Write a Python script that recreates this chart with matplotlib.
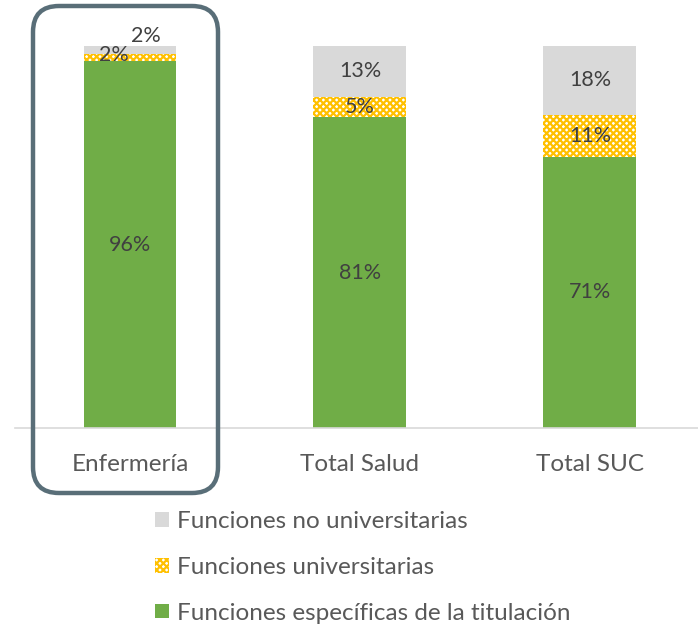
import matplotlib
matplotlib.use("Agg")
import matplotlib.pyplot as plt
from matplotlib.patches import FancyBboxPatch, Patch

plt.rcParams['font.family'] = ['Lato', 'DejaVu Sans']
plt.rcParams['hatch.linewidth'] = 1.6

categories = ["Enfermería", "Total Salud", "Total SUC"]
especificas = [96.0, 81.4, 71.0]
universitarias = [2.0, 5.3, 11.0]
no_universitarias = [2.0, 13.3, 18.0]
series_names = ["Funciones no universitarias", "Funciones universitarias",
                "Funciones específicas de la titulación"]

green = "#70AD47"
gold = "#FFC000"
gray = "#D9D9D9"
txt = "#404040"

fig = plt.figure(figsize=(6.98, 6.26), dpi=100)
ax = fig.add_axes([15/698, 198/626, 683/698, 382/626])
x = list(range(len(categories)))
w = 0.404
b1 = ax.bar(x, especificas, w, color=green)
b2 = ax.bar(x, universitarias, w, bottom=especificas, color="white",
            edgecolor=gold, hatch="xxxxx", linewidth=0)
bot3 = [a + b for a, b in zip(especificas, universitarias)]
b3 = ax.bar(x, no_universitarias, w, bottom=bot3, color=gray)

ax.set_xlim(-0.5, 2.47)
ax.set_ylim(0, 100)
for s in ["left", "right", "top"]:
    ax.spines[s].set_visible(False)
ax.spines["bottom"].set_color("#D9D9D9")
ax.spines["bottom"].set_linewidth(1.2)
ax.set_yticks([])
ax.set_xticks(x)
ax.set_xticklabels(categories, fontsize=17.5, color="#595959")
ax.tick_params(axis="x", length=0, pad=19)

fs = 15.5
for i in x:
    ax.text(i, especificas[i] / 2, f"{especificas[i]:.0f}%", ha="center", va="center",
            fontsize=fs, color=txt)
    if i == 0:
        ax.text(i - 0.07, especificas[i] + universitarias[i] / 2 + 0.6,
                f"{universitarias[i]:.0f}%", ha="center", va="center", fontsize=fs, color=txt)
        ax.text(i + 0.07, 100 + 2.6, f"{no_universitarias[i]:.0f}%",
                ha="center", va="center", fontsize=fs, color=txt)
    else:
        ax.text(i, especificas[i] + universitarias[i] / 2, f"{universitarias[i]:.0f}%",
                ha="center", va="center", fontsize=fs, color=txt)
        ax.text(i, bot3[i] + no_universitarias[i] / 2, f"{no_universitarias[i]:.0f}%",
                ha="center", va="center", fontsize=fs, color=txt)

handles = [Patch(facecolor=gray, edgecolor="none"),
           Patch(facecolor="white", edgecolor=gold, hatch="xxxxx", linewidth=0),
           Patch(facecolor=green, edgecolor="none")]
fig.legend(handles, series_names, loc="upper left",
           bbox_to_anchor=(143/698, 1 - 499/626), frameon=False,
           fontsize=17.5, labelcolor="#595959", handlelength=0.55, handleheight=0.55,
           handletextpad=0.35, labelspacing=1.02, borderpad=0)

ov = fig.add_axes([0, 0, 1, 1], zorder=5)
ov.set_xlim(0, 698)
ov.set_ylim(626, 0)
ov.axis("off")
ov.patch.set_alpha(0)
box = FancyBboxPatch((33, 6), 185, 487, boxstyle="round,pad=0,rounding_size=26",
                     fill=False, edgecolor="#596E78", linewidth=3.2)
ov.add_patch(box)

fig.savefig("out.png", dpi=100)
